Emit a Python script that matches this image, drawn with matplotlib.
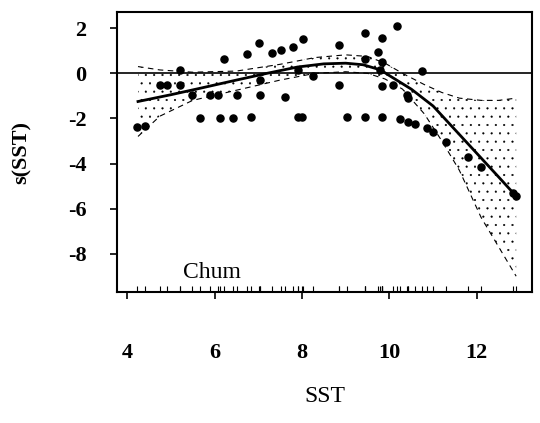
import numpy as np
import matplotlib
matplotlib.use("Agg")
import matplotlib.pyplot as plt
import matplotlib.transforms as mtransforms

# fitted smooth s(SST)
fit_x = [4.25, 5.0, 5.7, 6.5, 7.2, 7.9, 8.5, 9.0, 9.4, 9.8, 10.0, 10.5, 11.0, 11.5, 12.0, 12.5, 12.9]
fit_y = [-1.25, -0.95, -0.65, -0.3, 0.0, 0.28, 0.42, 0.45, 0.38, 0.15, -0.1, -0.7, -1.45, -2.5, -3.55, -4.6, -5.45]

# confidence band
band_x = [4.25, 4.75, 5.5, 6.5, 7.5, 8.3, 9.0, 9.5, 9.9, 10.3, 10.8, 11.2, 11.6, 12.1, 12.5, 12.9]
band_hi = [0.3, 0.15, 0.05, 0.1, 0.4, 0.7, 0.82, 0.75, 0.45, 0.0, -0.5, -0.85, -1.1, -1.2, -1.2, -1.1]
band_lo = [-2.8, -1.9, -1.2, -0.75, -0.3, 0.0, 0.07, 0.0, -0.25, -0.7, -1.8, -3.0, -4.3, -6.4, -7.7, -9.0]

# partial residuals
pts_x = [4.23, 4.41, 5.21, 4.75, 4.91, 5.21, 5.49, 5.9, 6.08, 6.51, 7.04, 7.61,
         5.67, 6.13, 6.42, 6.83, 7.9, 8.0, 6.22, 6.74, 7.02, 7.31, 7.52, 7.8,
         8.02, 7.04, 7.91, 8.25, 8.85, 8.85, 9.44, 9.83, 9.74, 9.44, 9.83, 9.78,
         10.17, 10.74, 9.83, 10.08, 9.03, 9.44, 9.83, 10.24, 10.42, 10.58, 10.86,
         11.0, 11.3, 10.4, 10.42, 11.8, 12.09, 12.82, 12.89]
pts_y = [-2.37, -2.32, 0.15, -0.51, -0.51, -0.51, -0.95, -0.95, -0.95, -0.95, -0.95, -1.04,
         -2.0, -2.0, -2.0, -1.93, -1.93, -1.93, 0.64, 0.86, 1.35, 0.9, 1.04, 1.17,
         1.52, -0.29, 0.15, -0.11, 1.26, -0.51, 1.79, 1.57, 0.95, 0.64, 0.51, 0.15,
         2.1, 0.11, -0.55, -0.51, -1.93, -1.93, -1.93, -2.02, -2.15, -2.23, -2.41,
         -2.59, -3.03, -0.95, -1.08, -3.69, -4.14, -5.29, -5.46]

xticks = [4, 6, 8, 10, 12]
yticks = [2, 0, -2, -4, -6, -8]

plt.rcParams['font.family'] = ['Liberation Serif', 'DejaVu Serif']
plt.rcParams['hatch.linewidth'] = 0.3

fig = plt.figure(figsize=(5.4, 4.23), dpi=100)
ax = fig.add_axes([0.2167, 0.3097, 0.7683, 0.6619])

# dotted band
ax.fill_between(band_x, band_lo, band_hi, facecolor='none', edgecolor='black',
                hatch='..', linewidth=0)
ax.plot(band_x, band_hi, color='black', lw=0.8, ls=(0, (5, 4)))
ax.plot(band_x, band_lo, color='black', lw=0.8, ls=(0, (5, 4)))

ax.axhline(0, color='black', lw=1.2)
ax.plot(fit_x, fit_y, color='black', lw=2.0)
ax.scatter(pts_x, pts_y, s=26, color='black', zorder=3)

# rug along the bottom
trans = mtransforms.blended_transform_factory(ax.transData, ax.transAxes)
ax.plot(pts_x, [0.012] * len(pts_x), ls='none', marker='|', ms=5, mew=0.8,
        color='black', transform=trans, clip_on=False)

ax.text(5.28, -8.85, 'Chum', fontsize=17, ha='left', va='center')

ax.set_xlim(3.77, 13.26)
ax.set_ylim(-9.7, 2.72)
ax.set_xticks(xticks)
ax.set_yticks(yticks)
ax.set_xticklabels([str(t) for t in xticks], fontsize=16, fontweight='bold')
ax.set_yticklabels([str(t) for t in yticks], fontsize=16, fontweight='bold')
ax.tick_params(axis='x', direction='out', length=5, width=1.2, pad=32)
ax.tick_params(axis='y', direction='out', length=5, width=1.2, pad=17)
for sp in ax.spines.values():
    sp.set_linewidth(1.5)

ax.set_xlabel('SST', fontsize=17, labelpad=16)
ax.set_ylabel('s(SST)', fontsize=16, fontweight='bold', labelpad=26)

fig.savefig('out.png', dpi=100)
